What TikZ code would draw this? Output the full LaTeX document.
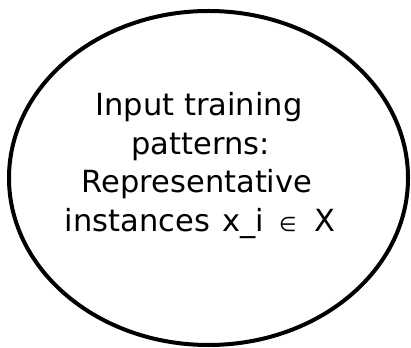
\documentclass[tikz,border=0pt]{standalone}
\usepackage{fontspec}
\setmainfont{DejaVu Sans}
\begin{document}
\begin{tikzpicture}[x=1pt,y=1pt,
  lbl/.style={anchor=base,inner sep=0pt,font=\fontsize{30.5}{36}\selectfont}]
\useasboundingbox (0,0) rectangle (411,347);
\draw[line width=4pt] (208.5,169) ellipse [x radius=199.5, y radius=167];
\node[lbl] (l1) at (199,231) {Input training};
\node[lbl] (l2) at (200.5,192.5) {patterns:};
\node[lbl] (l3) at (197,154) {Representative};
\node[lbl] (l4) at (200,115) {instances\hspace{3pt} x\_i\hspace{5pt} {\fontsize{20}{22}\selectfont ∈}\hspace{8pt} X};
\end{tikzpicture}
\end{document}
